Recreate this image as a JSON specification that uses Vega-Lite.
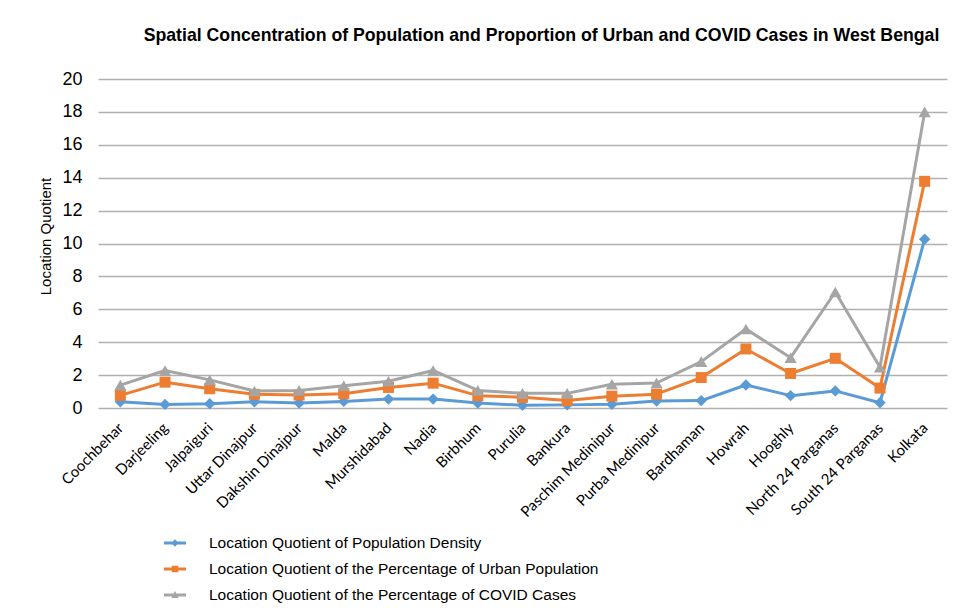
{
  "$schema": "https://vega.github.io/schema/vega-lite/v6.json",
  "width": 849,
  "height": 329,
  "autosize": {"type": "none"},
  "padding": {"left": 98, "top": 79, "right": 19, "bottom": 204},
  "background": "white",
  "title": {
    "text": "Spatial Concentration of Population and Proportion of Urban and COVID Cases in West Bengal",
    "font": "Liberation Sans",
    "fontSize": 17.7,
    "fontWeight": "bold",
    "color": "#000000",
    "anchor": "middle",
    "frame": "group",
    "dx": 19,
    "baseline": "alphabetic",
    "offset": 11
  },
  "data": {
    "values": [
      {"district": "Coochbehar", "series": "Location Quotient of Population Density", "lq": 0.38},
      {"district": "Darjeeling", "series": "Location Quotient of Population Density", "lq": 0.22},
      {"district": "Jalpaiguri", "series": "Location Quotient of Population Density", "lq": 0.26},
      {"district": "Uttar Dinajpur", "series": "Location Quotient of Population Density", "lq": 0.38},
      {"district": "Dakshin Dinajpur", "series": "Location Quotient of Population Density", "lq": 0.30},
      {"district": "Malda", "series": "Location Quotient of Population Density", "lq": 0.40},
      {"district": "Murshidabad", "series": "Location Quotient of Population Density", "lq": 0.54},
      {"district": "Nadia", "series": "Location Quotient of Population Density", "lq": 0.54},
      {"district": "Birbhum", "series": "Location Quotient of Population Density", "lq": 0.30},
      {"district": "Purulia", "series": "Location Quotient of Population Density", "lq": 0.16},
      {"district": "Bankura", "series": "Location Quotient of Population Density", "lq": 0.19},
      {"district": "Paschim Medinipur", "series": "Location Quotient of Population Density", "lq": 0.23},
      {"district": "Purba Medinipur", "series": "Location Quotient of Population Density", "lq": 0.43},
      {"district": "Bardhaman", "series": "Location Quotient of Population Density", "lq": 0.45},
      {"district": "Howrah", "series": "Location Quotient of Population Density", "lq": 1.40},
      {"district": "Hooghly", "series": "Location Quotient of Population Density", "lq": 0.75},
      {"district": "North 24 Parganas", "series": "Location Quotient of Population Density", "lq": 1.04},
      {"district": "South 24 Parganas", "series": "Location Quotient of Population Density", "lq": 0.32},
      {"district": "Kolkata", "series": "Location Quotient of Population Density", "lq": 10.26},

      {"district": "Coochbehar", "series": "Location Quotient of the Percentage of Urban Population", "lq": 0.77},
      {"district": "Darjeeling", "series": "Location Quotient of the Percentage of Urban Population", "lq": 1.57},
      {"district": "Jalpaiguri", "series": "Location Quotient of the Percentage of Urban Population", "lq": 1.17},
      {"district": "Uttar Dinajpur", "series": "Location Quotient of the Percentage of Urban Population", "lq": 0.83},
      {"district": "Dakshin Dinajpur", "series": "Location Quotient of the Percentage of Urban Population", "lq": 0.79},
      {"district": "Malda", "series": "Location Quotient of the Percentage of Urban Population", "lq": 0.87},
      {"district": "Murshidabad", "series": "Location Quotient of the Percentage of Urban Population", "lq": 1.25},
      {"district": "Nadia", "series": "Location Quotient of the Percentage of Urban Population", "lq": 1.51},
      {"district": "Birbhum", "series": "Location Quotient of the Percentage of Urban Population", "lq": 0.75},
      {"district": "Purulia", "series": "Location Quotient of the Percentage of Urban Population", "lq": 0.65},
      {"district": "Bankura", "series": "Location Quotient of the Percentage of Urban Population", "lq": 0.45},
      {"district": "Paschim Medinipur", "series": "Location Quotient of the Percentage of Urban Population", "lq": 0.72},
      {"district": "Purba Medinipur", "series": "Location Quotient of the Percentage of Urban Population", "lq": 0.84},
      {"district": "Bardhaman", "series": "Location Quotient of the Percentage of Urban Population", "lq": 1.85},
      {"district": "Howrah", "series": "Location Quotient of the Percentage of Urban Population", "lq": 3.59},
      {"district": "Hooghly", "series": "Location Quotient of the Percentage of Urban Population", "lq": 2.10},
      {"district": "North 24 Parganas", "series": "Location Quotient of the Percentage of Urban Population", "lq": 3.02},
      {"district": "South 24 Parganas", "series": "Location Quotient of the Percentage of Urban Population", "lq": 1.21},
      {"district": "Kolkata", "series": "Location Quotient of the Percentage of Urban Population", "lq": 13.78},

      {"district": "Coochbehar", "series": "Location Quotient of the Percentage of COVID Cases", "lq": 1.39},
      {"district": "Darjeeling", "series": "Location Quotient of the Percentage of COVID Cases", "lq": 2.28},
      {"district": "Jalpaiguri", "series": "Location Quotient of the Percentage of COVID Cases", "lq": 1.71},
      {"district": "Uttar Dinajpur", "series": "Location Quotient of the Percentage of COVID Cases", "lq": 1.03},
      {"district": "Dakshin Dinajpur", "series": "Location Quotient of the Percentage of COVID Cases", "lq": 1.07},
      {"district": "Malda", "series": "Location Quotient of the Percentage of COVID Cases", "lq": 1.35},
      {"district": "Murshidabad", "series": "Location Quotient of the Percentage of COVID Cases", "lq": 1.63},
      {"district": "Nadia", "series": "Location Quotient of the Percentage of COVID Cases", "lq": 2.28},
      {"district": "Birbhum", "series": "Location Quotient of the Percentage of COVID Cases", "lq": 1.07},
      {"district": "Purulia", "series": "Location Quotient of the Percentage of COVID Cases", "lq": 0.89},
      {"district": "Bankura", "series": "Location Quotient of the Percentage of COVID Cases", "lq": 0.89},
      {"district": "Paschim Medinipur", "series": "Location Quotient of the Percentage of COVID Cases", "lq": 1.44},
      {"district": "Purba Medinipur", "series": "Location Quotient of the Percentage of COVID Cases", "lq": 1.52},
      {"district": "Bardhaman", "series": "Location Quotient of the Percentage of COVID Cases", "lq": 2.82},
      {"district": "Howrah", "series": "Location Quotient of the Percentage of COVID Cases", "lq": 4.80},
      {"district": "Hooghly", "series": "Location Quotient of the Percentage of COVID Cases", "lq": 3.06},
      {"district": "North 24 Parganas", "series": "Location Quotient of the Percentage of COVID Cases", "lq": 7.05},
      {"district": "South 24 Parganas", "series": "Location Quotient of the Percentage of COVID Cases", "lq": 2.48},
      {"district": "Kolkata", "series": "Location Quotient of the Percentage of COVID Cases", "lq": 18.0}
    ]
  },
  "encoding": {
    "x": {
      "field": "district",
      "type": "nominal",
      "scale": {
        "type": "point",
        "padding": 0.5,
        "domain": ["Coochbehar", "Darjeeling", "Jalpaiguri", "Uttar Dinajpur", "Dakshin Dinajpur", "Malda", "Murshidabad", "Nadia", "Birbhum", "Purulia", "Bankura", "Paschim Medinipur", "Purba Medinipur", "Bardhaman", "Howrah", "Hooghly", "North 24 Parganas", "South 24 Parganas", "Kolkata"]
      },
      "axis": {
        "title": null,
        "labelAngle": -45,
        "labelAlign": "right",
        "labelBaseline": "middle",
        "labelFont": "Lato",
        "labelFontSize": 15,
        "labelColor": "#000000",
        "labelPadding": 17,
        "ticks": false,
        "domain": false,
        "grid": false
      }
    },
    "y": {
      "field": "lq",
      "type": "quantitative",
      "scale": {"domain": [0, 20], "nice": false, "zero": true},
      "axis": {
        "title": "Location Quotient",
        "titleFont": "Liberation Sans",
        "titleFontSize": 15,
        "titleFontWeight": "normal",
        "titleColor": "#000000",
        "titlePadding": 8,
        "titleY": 157,
        "values": [0, 2, 4, 6, 8, 10, 12, 14, 16, 18, 20],
        "labelFont": "Liberation Sans",
        "labelFontSize": 18,
        "labelColor": "#000000",
        "labelPadding": 16,
        "ticks": false,
        "domain": false,
        "grid": true,
        "gridColor": "#b0b0b0",
        "gridWidth": 1.3
      }
    }
  },
  "layer": [
    {
      "transform": [{"filter": "datum.series === 'Location Quotient of Population Density'"}],
      "mark": {
        "type": "line",
        "color": "#5B9BD5",
        "strokeWidth": 3,
        "strokeJoin": "round",
        "strokeCap": "round",
        "point": {"shape": "diamond", "size": 130, "filled": true, "color": "#5B9BD5", "opacity": 1}
      }
    },
    {
      "transform": [{"filter": "datum.series === 'Location Quotient of the Percentage of Urban Population'"}],
      "mark": {
        "type": "line",
        "color": "#ED7D31",
        "strokeWidth": 3,
        "strokeJoin": "round",
        "strokeCap": "round",
        "point": {"shape": "square", "size": 121, "filled": true, "color": "#ED7D31", "opacity": 1}
      }
    },
    {
      "transform": [{"filter": "datum.series === 'Location Quotient of the Percentage of COVID Cases'"}],
      "mark": {
        "type": "line",
        "color": "#A5A5A5",
        "strokeWidth": 3,
        "strokeJoin": "round",
        "strokeCap": "round",
        "point": {"shape": "triangle-up", "size": 150, "filled": true, "color": "#A5A5A5", "opacity": 1}
      }
    },
    {
      "mark": {"type": "point", "filled": true, "opacity": 0},
      "encoding": {
        "color": {
          "field": "series",
          "type": "nominal",
          "scale": {
            "domain": ["Location Quotient of Population Density", "Location Quotient of the Percentage of Urban Population", "Location Quotient of the Percentage of COVID Cases"],
            "range": ["#5B9BD5", "#ED7D31", "#A5A5A5"]
          },
          "legend": {
            "title": null,
            "orient": "none",
            "legendX": 65,
            "legendY": 452,
            "direction": "vertical",
            "padding": 0,
            "symbolSize": 484,
            "symbolOpacity": 1,
            "labelFont": "Liberation Sans",
            "labelFontSize": 15.5,
            "labelColor": "#000000",
            "labelOffset": 22,
            "labelLimit": 600,
            "rowPadding": 5,
            "encode": {
              "symbols": {
                "update": {
                  "opacity": {"value": 1},
                  "fillOpacity": {"value": 1},
                  "strokeOpacity": {"value": 0}
                }
              }
            }
          }
        },
        "shape": {
          "field": "series",
          "type": "nominal",
          "scale": {
            "domain": ["Location Quotient of Population Density", "Location Quotient of the Percentage of Urban Population", "Location Quotient of the Percentage of COVID Cases"],
            "range": [
              "M-1,-0.13L1,-0.13L1,0.13L-1,0.13Z M0,-0.34L0.34,0L0,0.34L-0.34,0Z",
              "M-1,-0.13L1,-0.13L1,0.13L-1,0.13Z M-0.3,-0.3L0.3,-0.3L0.3,0.3L-0.3,0.3Z",
              "M-1,-0.13L1,-0.13L1,0.13L-1,0.13Z M0,-0.36L0.34,0.28L-0.34,0.28Z"
            ]
          }
        }
      }
    }
  ],
  "config": {
    "view": {"stroke": null}
  }
}
